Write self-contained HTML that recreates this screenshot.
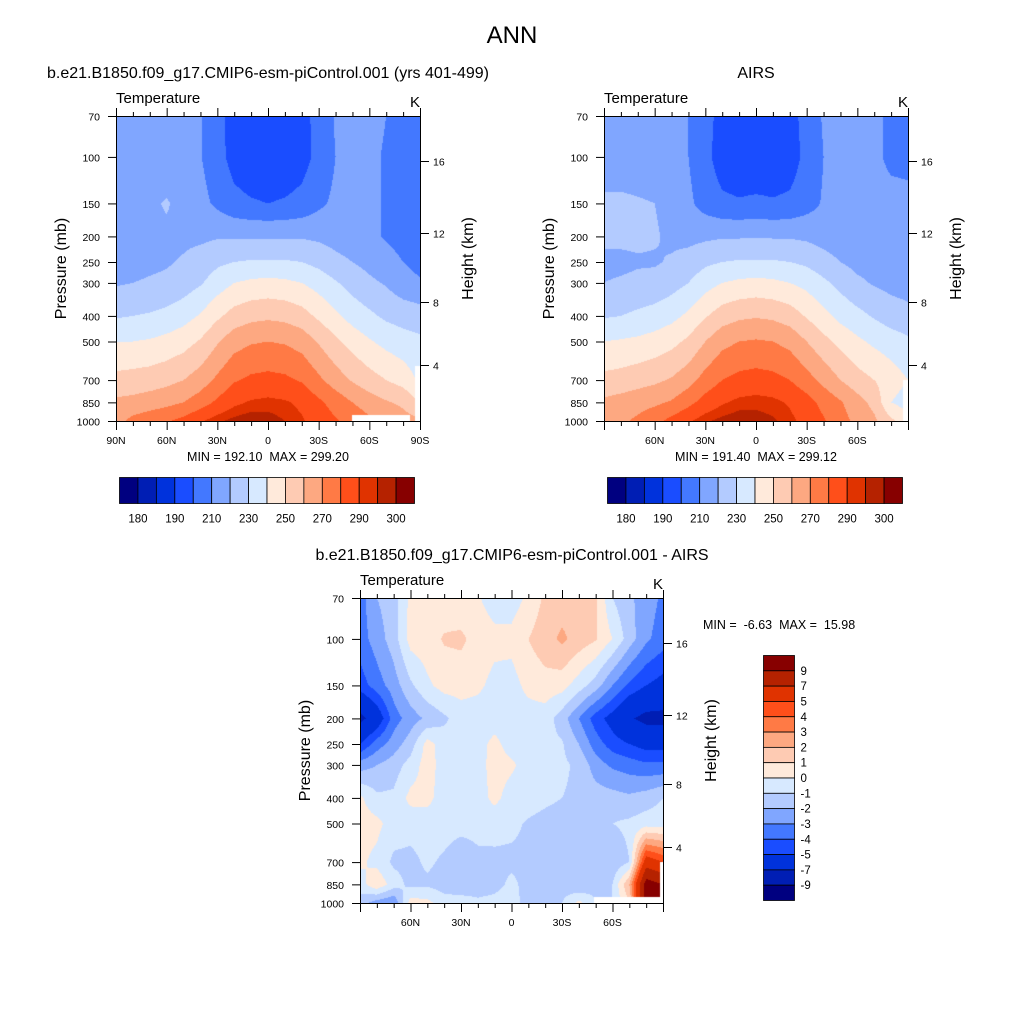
<!DOCTYPE html>
<html><head><meta charset="utf-8"><title>ANN Temperature</title>
<style>
html,body{margin:0;padding:0;background:#fff;}
#wrap{position:relative;width:1024px;height:1024px;overflow:hidden;font-family:"Liberation Sans",Arial,sans-serif;}
canvas{position:absolute;}
svg{position:absolute;left:0;top:0;}
text{font-family:"Liberation Sans",Arial,sans-serif;fill:#000;white-space:pre;}
</style></head>
<body>
<div id="wrap">
<canvas id="c1" width="304" height="305" style="left:116px;top:116px"></canvas>
<canvas id="c2" width="304" height="305" style="left:604px;top:116px"></canvas>
<canvas id="c3" width="303" height="305" style="left:360px;top:598px"></canvas>
<svg id="ov" width="1024" height="1024"></svg>
</div>
<script>
// ---- data ----
const lats = [90,80,70,60,50,40,30,20,10,0,-10,-20,-30,-40,-50,-60,-70,-80,-90];
const plevs = [70,100,150,200,250,300,400,500,700,850,1000];
const absLevels = [180,185,190,200,210,220,230,240,250,260,270,280,290,295,300];
const absTickLabels = ["180","190","210","230","250","270","290","300"];
const diffLevels = [-9,-7,-5,-4,-3,-2,-1,0,1,2,3,4,5,7,9];
const diffTickLabels = ["9","7","5","4","3","2","1","0","-1","-2","-3","-4","-5","-7","-9"];
const pressureTicks = [70,100,150,200,250,300,400,500,700,850,1000];
const heightTicks = [16,12,8,4];
const latTickLabels1 = ["90N","60N","30N","0","30S","60S","90S"];
const latTickLabels2 = ["","60N","30N","0","30S","60S",""];
const modelT = [
[214,214,213,212,211,210.5,203,196,193,192,193,197,203,211,213,213,210,206,205],
[214,214,213,213,212,210.5,204,196,193,192,193,196,203,210,213,212,209,205,204],
[215,216,218,221,216,213,208,203,201,200,201,203,208,212,213,212,209,205,204],
[217,217,218,218,218,218,219,219,219,219,219,219,218,216,214,212,209,206,205],
[216,217,218,219,221,224,228,230,231,231,231,230,227,223,220,217,214,210,207],
[219,220,221,222,225,229,235,240,242,243,242,240,236,231,226,222,219,214,211],
[229,230,231,233,236,241,248,254,257,258,257,254,248,242,236,232,228,226,225],
[240,240,241,243,246,251,259,266,269,270,269,266,259,252,246,241,237,234,232],
[253,254,255,257,260,265,272,279,282,283,282,279,272,265,259,254,250,246,238],
[262,263,265,267,270,275,282,288,291,292,291,288,282,276,270,265,261,258,250],
[266,273,276,279,283,289,294,297,299,298,295,291,286,281,277,272,268,264,262]];
const airsT = [
[214,214,214,214,213,210,204,196,193,192,193,196,204,211,213,214,212,208,206],
[214,214,214,214,213,210,203,195,193,192,193,195,203,210,213,213,212,208,207],
[222,222,221,220,217,212,206,202,201,202,201,202,206,211,213,213,213,213,213],
[222,222,222,221,218,217,218,219,219,219.5,219,219,218,216,214,214,214,214,214],
[218,218,219,219,221,224,228,230,231,231,231,230,228,224,220,217,216,215,215],
[220,221,222,223,226,230,236,240,242,243,242,240,237,232,227,222,219,217,216],
[229,230,232,234,237,242,249,255,258,259,258,255,249,243,237,233,229,225,223],
[240,241,242,244,247,252,260,267,270,271,270,267,260,253,247,242,238,235,232],
[253,254,256,258,261,266,274,280,283,284,283,280,274,267,260,254,250,245,240],
[262,264,266,268,271,277,284,289,292,293,292,289,284,277,271,264,257,240,235],
[265,268,272,277,283,289,294,297,299,298,296,292,287,281,274,267,262,252,245]];
const diffT = [
[-3.5,-2,-1.5,0.3,0.4,0.4,0.3,0.1,-0.5,-0.5,0.2,1.2,1.5,1.5,1.2,-1,-1.8,-2.5,-3.2],
[-3.5,-2.5,-1.5,0.4,0.6,1.1,1.2,0.6,0.3,0.3,1,1.6,2.2,1.6,1.1,0,-1.5,-2.8,-3.5],
[-4.5,-3.5,-2.5,-1.2,-0.2,0.4,0.4,0.2,-0.3,-0.4,0.3,0.6,0.4,-0.5,-1.5,-3,-4.2,-5,-5.5],
[-7.5,-6,-3.5,-2.5,-1.8,-1.2,-0.5,-0.5,-0.5,-0.5,-0.5,-0.5,-1.5,-3,-4.5,-5.5,-6.8,-7.5,-7.5],
[-5,-3.5,-2.5,-1.5,0.4,-0.5,-0.6,-0.4,0.3,-0.5,-0.6,-0.7,-0.9,-2,-3.5,-4.5,-5,-5.5,-5.5],
[-2.5,-2,-1.5,-0.6,0.5,-0.5,-0.6,-0.5,0.5,0.2,-0.5,-0.6,-0.8,-1.2,-2.5,-3.2,-3.5,-3.8,-3.8],
[0.2,-0.8,-0.8,0.3,0.3,-0.5,-0.6,-0.5,0.3,-0.5,-0.6,-0.8,-1,-1.2,-1.5,-1.6,-1.8,-1.5,-1],
[0.5,0.3,-0.5,-0.6,-0.5,-0.5,-0.6,-0.6,-0.7,-0.8,-1.1,-1.3,-1.4,-1.3,-1.1,-1,-0.8,-0.5,-0.5],
[0.2,-0.3,-1.2,-1.3,-0.8,-1.2,-1.8,-1.3,-1.2,-1.2,-1.2,-1.3,-1.6,-1.4,-1.5,-1.8,-1,6,5],
[-0.5,0.8,-0.5,-1.3,-1.2,-1.5,-1.7,-1.5,-1.3,-0.8,-1.3,-1.6,-1.5,-2,-1.3,-1,2,10,9],
[-1.5,-2.5,-3,0.5,0.3,-0.5,-0.5,-0.8,-0.7,-0.5,-1.5,-1.2,-1,0.3,-1,-1,1,10,9]];
const mask1 = [[-84,-50,950],[-90,-87,620]];
const mask2 = [[-90,-87,700]];
const mask3 = [[-90,-49,950],[-90,-88,700]];
const palette = ["#000080","#001eb4","#0032dc","#1a4dff","#4378ff","#80a6ff","#b3cbff","#d7e9ff","#ffeadb","#fecbb3","#fda881","#ff7a45","#ff4f1a","#e03300","#b52200","#870000"];

// ---- rendering ----
const LP0=Math.log10(70), LP1=Math.log10(1000);
const logP = plevs.map(p=>Math.log10(p));
function hex(c){return [parseInt(c.substr(1,2),16),parseInt(c.substr(3,2),16),parseInt(c.substr(5,2),16)];}
const rgb = palette.map(hex);
function lvlIdx(v,levels){let i=0;while(i<levels.length&&v>=levels[i])i++;return i;}
function drawField(id,grid,levels,masks){
  const cv=document.getElementById(id),ctx=cv.getContext('2d');
  const W=cv.width,H=cv.height,img=ctx.createImageData(W,H);
  for(let y=0;y<H;y++){
    const lp=LP0+(y+0.5)/H*(LP1-LP0); const p=Math.pow(10,lp);
    let j=0; while(j<logP.length-2&&lp>logP[j+1])j++;
    const ty=Math.min(1,Math.max(0,(lp-logP[j])/(logP[j+1]-logP[j])));
    for(let x=0;x<W;x++){
      const lat=90-(x+0.5)/W*180;
      const fi=(lats[0]-lat)/10; let i=Math.min(lats.length-2,Math.floor(fi)); const tx=fi-i;
      let masked=false;
      for(const m of masks){if(lat>=m[0]&&lat<=m[1]&&p>=m[2])masked=true;}
      const o=(y*W+x)*4;
      if(masked){img.data[o]=255;img.data[o+1]=255;img.data[o+2]=255;img.data[o+3]=255;continue;}
      const v=(grid[j][i]*(1-tx)+grid[j][i+1]*tx)*(1-ty)+(grid[j+1][i]*(1-tx)+grid[j+1][i+1]*tx)*ty;
      const c=rgb[lvlIdx(v,levels)];
      img.data[o]=c[0];img.data[o+1]=c[1];img.data[o+2]=c[2];img.data[o+3]=255;
    }
  }
  ctx.putImageData(img,0,0);
}
drawField('c1',modelT,absLevels,mask1);
drawField('c2',airsT,absLevels,mask2);
drawField('c3',diffT,diffLevels,mask3);

// ---- annotations ----
const NS='http://www.w3.org/2000/svg', ov=document.getElementById('ov');
function el(tag,attrs,txt){const e=document.createElementNS(NS,tag);for(const k in attrs)e.setAttribute(k,attrs[k]);if(txt!==undefined)e.textContent=txt;ov.appendChild(e);return e;}
function line(x1,y1,x2,y2,name){const e=el('line',{x1,y1,x2,y2,stroke:'#000','stroke-width':1});

return e;}
function txt(x,y,s,size,anchor,name,rot){const a={x,y,'font-size':size,'text-anchor':anchor||'start'};if(rot)a.transform=`rotate(${rot} ${x} ${y})`;const e=el('text',a,s);

return e;}
const hOff=[45,117,186,249];
function axes(L,T,W,H,latLabels,pre){
  const r=el('rect',{x:L+0.5,y:T+0.5,width:W,height:H,fill:'none',stroke:'#000','stroke-width':1});
  
  
  for(let k=0;k<=18;k++){const x=L+0.5+k*W/18;const len=(k%3===0)?8:4;
    line(x,T,x,T-len,pre+'top-tick');line(x,T+H+1,x,T+H+1+len,pre+'bottom-tick');}
  latLabels.forEach((s,k)=>{if(s)txt(L+k*W/6,T+H+23,s,10.5,'middle',pre+'lat-label');});
  pressureTicks.forEach(p=>{const y=T+0.5+(Math.log10(p)-LP0)/(LP1-LP0)*H;
    line(L-8,y,L,y,pre+'pressure-tick');txt(L-16,y+4,String(p),10.5,'end',pre+'pressure-label');});
  heightTicks.forEach((h,k)=>{const y=T+0.5+hOff[k];line(L+W+1,y,L+W+9,y,pre+'height-tick');txt(L+W+13,y+4,String(h),10.5,'start',pre+'height-label');});
  txt(L,T-13,'Temperature',15,'start',pre+'field-title');
  txt(L+W-10,T-9,'K',15,'start',pre+'units-label');
  txt(L-50,T+H/2,'Pressure (mb)',16,'middle',pre+'y-axis-title',-90);
  txt(L+W+53,T+H/2-10,'Height (km)',16,'middle',pre+'y2-axis-title',-90);
}
axes(116,116,304,305,latTickLabels1,'model-');
axes(604,116,304,305,latTickLabels2,'airs-');
axes(360,598,303,305,latTickLabels2,'diff-');
txt(512,43,'ANN',24,'middle','main-title');
txt(268,78,'b.e21.B1850.f09_g17.CMIP6-esm-piControl.001 (yrs 401-499)',16,'middle','model-panel-title');
txt(756,78,'AIRS',16,'middle','airs-panel-title');
txt(512,560,'b.e21.B1850.f09_g17.CMIP6-esm-piControl.001 - AIRS',16,'middle','diff-panel-title');
txt(268,461,'MIN = 192.10  MAX = 299.20',12.5,'middle','model-min-max');
txt(756,461,'MIN = 191.40  MAX = 299.12',12.5,'middle','airs-min-max');
txt(703,629,'MIN =  -6.63  MAX =  15.98',12.5,'start','diff-min-max');
function hbar(L,T,W,H,pre){
  const n=palette.length,bw=W/n;
  for(let k=0;k<n;k++){const r=el('rect',{x:L+k*bw,y:T,width:bw,height:H,fill:palette[k],stroke:'#000','stroke-width':0.8});
    
    }
  absTickLabels.forEach((s,k)=>txt(L+(1+2*k)*bw,T+H+19,s,11.5,'middle',pre+'colorbar-label'));
}
hbar(119.5,477.5,295,26,'model-');
hbar(607.5,477.5,295,26,'airs-');
(function(){const L=763.5,T=655.5,W=31,H=245,n=palette.length,bh=H/n;
  for(let k=0;k<n;k++){const r=el('rect',{x:L,y:T+k*bh,width:W,height:bh,fill:palette[n-1-k],stroke:'#000','stroke-width':0.8});
    
    }
  diffTickLabels.forEach((s,k)=>txt(L+W+6,T+(k+1)*bh+4,s,11.5,'start','diff-colorbar-label'));
})();
</script>
</body></html>
